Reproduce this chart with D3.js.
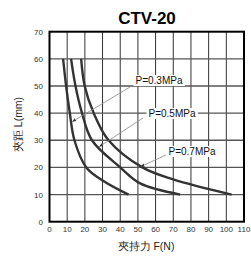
<!DOCTYPE html>
<html>
<head>
<meta charset="utf-8">
<script src="https://cdn.jsdelivr.net/npm/d3@7"></script>
<style>
  body { margin: 0; background: #fff; }
  text { font-family: "Liberation Sans", Arial, sans-serif; }
</style>
</head>
<body>
<svg id="chart" width="251" height="256"></svg>
<script>
// values
var xTicks = [0, 10, 20, 30, 40, 50, 60, 70, 80, 90, 100, 110];
var yTicks = [0, 10, 20, 30, 40, 50, 60, 70];

var p03 = [
  {F: 7.7, L: 60}, {F: 9.4, L: 50}, {F: 11.5, L: 40}, {F: 14.1, L: 30},
  {F: 20.8, L: 20}, {F: 30.5, L: 15}, {F: 44.7, L: 10}
];
var p05 = [
  {F: 12.2, L: 60}, {F: 14.7, L: 50}, {F: 18.4, L: 40}, {F: 24, L: 30},
  {F: 40, L: 20}, {F: 51.3, L: 14.1}, {F: 73.9, L: 10}
];
var p07 = [
  {F: 17.9, L: 60}, {F: 19.9, L: 50}, {F: 25, L: 40}, {F: 33.4, L: 30},
  {F: 52.5, L: 20}, {F: 70, L: 15.6}, {F: 103, L: 10}
];
var seriesNames = ['P=0.3MPa', 'P=0.5MPa', 'P=0.7MPa'];

var svg = d3.select('#chart');
var plotL = 49.5, plotR = 244, plotT = 31.7, plotB = 221.7;

var x = d3.scaleLinear().domain([0, 110]).range([plotL, plotR]);
var y = d3.scaleLinear().domain([0, 70]).range([plotB, plotT]);

svg.append('defs').append('marker')
  .attr('id', 'arr')
  .attr('viewBox', '0 0 10 10')
  .attr('refX', 9).attr('refY', 5)
  .attr('markerWidth', 5).attr('markerHeight', 5)
  .attr('orient', 'auto')
  .append('path').attr('d', 'M0,1L10,5L0,9z').attr('fill', '#333');

// grid
svg.append('g').selectAll('line').data(xTicks.slice(1, -1)).enter()
  .append('line')
  .attr('x1', d => x(d)).attr('x2', d => x(d))
  .attr('y1', plotT).attr('y2', plotB)
  .attr('stroke', '#333').attr('stroke-width', 1);
svg.append('g').selectAll('line').data(yTicks.slice(1, -1)).enter()
  .append('line')
  .attr('x1', plotL).attr('x2', plotR)
  .attr('y1', d => y(d)).attr('y2', d => y(d))
  .attr('stroke', '#555').attr('stroke-width', 1.3);

// curves
var line = d3.line()
  .x(d => x(d.F)).y(d => y(d.L))
  .curve(d3.curveCatmullRom.alpha(0.5));

[p03, p05, p07].forEach(function(s) {
  svg.append('path').datum(s)
    .attr('d', line)
    .attr('fill', 'none')
    .attr('stroke', '#333')
    .attr('stroke-width', 2.4);
});

// frame
svg.append('rect')
  .attr('x', plotL).attr('y', plotT)
  .attr('width', plotR - plotL).attr('height', plotB - plotT)
  .attr('fill', 'none').attr('stroke', '#000').attr('stroke-width', 2);

// labels with leaders
var labels = [
  {name: seriesNames[0], tx: 159, ty: 84, lx: 130, ly: 87, ax: 72.5, ay: 121.5},
  {name: seriesNames[1], tx: 172, ty: 117, lx: 143, ly: 118, ax: 99.5, ay: 146.5},
  {name: seriesNames[2], tx: 192, ty: 155, lx: 166, ly: 155, ax: 141, ay: 166.5}
];
labels.forEach(function(l) {
  svg.append('line')
    .attr('x1', l.lx).attr('y1', l.ly).attr('x2', l.ax).attr('y2', l.ay)
    .attr('stroke', '#888').attr('stroke-width', 0.8)
    .attr('marker-end', 'url(#arr)');
  var bg = svg.append('rect').attr('fill', '#fff');
  var t = svg.append('text')
    .attr('x', l.tx).attr('y', l.ty)
    .attr('text-anchor', 'middle')
    .attr('font-size', 10).attr('fill', '#111')
    .text(l.name);
  var bb = t.node().getBBox();
  bg.attr('x', bb.x - 2).attr('y', bb.y)
    .attr('width', bb.width + 4).attr('height', bb.height);
});

// tick labels
svg.append('g').selectAll('text').data(xTicks).enter()
  .append('text')
  .attr('x', d => x(d)).attr('y', 232)
  .attr('text-anchor', 'middle')
  .attr('font-size', 8).attr('fill', '#333')
  .text(d => d);
svg.append('g').selectAll('text').data(yTicks).enter()
  .append('text')
  .attr('x', 43).attr('y', d => y(d) + 3)
  .attr('text-anchor', 'end')
  .attr('font-size', 8).attr('fill', '#333')
  .text(d => d);

// titles
svg.append('text')
  .attr('x', 147).attr('y', 24)
  .attr('text-anchor', 'middle')
  .attr('font-size', 17).attr('font-weight', 'bold')
  .text('CTV-20');

svg.append('text')
  .attr('x', 146).attr('y', 250)
  .attr('text-anchor', 'middle')
  .attr('font-size', 10.5).attr('fill', '#222')
  .attr('font-family', '"Noto Sans CJK TC", sans-serif')
  .text('夾持力  F(N)');

svg.append('text')
  .attr('transform', 'translate(22,124.5) rotate(-90)')
  .attr('text-anchor', 'middle')
  .attr('font-size', 10.5).attr('fill', '#222')
  .attr('font-family', '"Noto Sans CJK TC", sans-serif')
  .text('夾距  L(mm)');
</script>
</body>
</html>
